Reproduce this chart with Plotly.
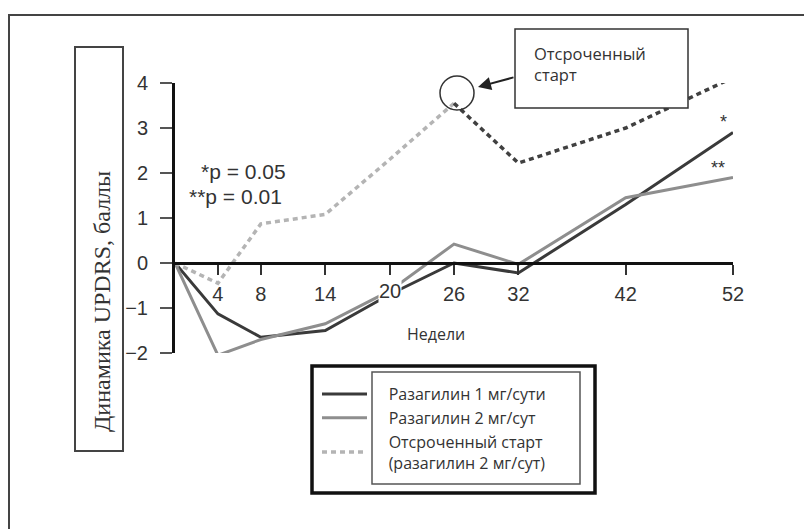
import plotly.graph_objects as go

# ---- data ----
weeks = [0, 4, 8, 14, 20, 26, 32, 42, 52]
raz1 = [0, -1.13, -1.65, -1.5, -0.7, 0.0, -0.22, 1.3, 2.9]
raz2 = [0, -2.05, -1.7, -1.35, -0.62, 0.42, -0.03, 1.45, 1.9]
delayed_weeks_a = [0, 4, 8, 14, 20, 26]
delayed_a = [0, -0.45, 0.87, 1.08, 2.3, 3.55]
delayed_weeks_b = [26, 32, 42, 52]
delayed_b = [3.55, 2.22, 3.0, 4.12]

x_ticks = [4, 8, 14, 20, 26, 32, 42, 52]
x_tick_text = ["4", "8", "14", "20", "26", "32", "42", "52"]
y_ticks = [-2, -1, 0, 1, 2, 3, 4]

names = ["Разагилин 1 мг/сути", "Разагилин 2 мг/сут",
         "Отсроченный старт<br>(разагилин 2 мг/сут)"]

# ---- layout geometry (pixels) ----
W, H = 804, 529
L, R, T, B = 175, 71, 83, 176
PW, PH = W - L - R, H - T - B


def px(xp):
    return (xp - L) / PW


def py(yp):
    return (H - B - yp) / PH


PAD = "&nbsp;" * 4


def padded(name):
    return "<br>".join(PAD + part for part in name.split("<br>"))


fig = go.Figure()
fig.add_trace(go.Scatter(x=weeks, y=raz1, mode="lines", name=padded(names[0]),
                         line=dict(color="#3a3a3a", width=3), cliponaxis=False))
fig.add_trace(go.Scatter(x=weeks, y=raz2, mode="lines", name=padded(names[1]),
                         line=dict(color="#8e8e8e", width=3), cliponaxis=False))
fig.add_trace(go.Scatter(x=delayed_weeks_a, y=delayed_a, mode="lines", name=padded(names[2]),
                         line=dict(color="#b4b4b4", width=3.5, dash="5px,4px"),
                         cliponaxis=False))
fig.add_trace(go.Scatter(x=delayed_weeks_b, y=delayed_b, mode="lines", showlegend=False,
                         line=dict(color="#404040", width=3.5, dash="5px,4px"),
                         cliponaxis=False))

shapes = []
# outer frame (top/left visible)
shapes.append(dict(type="rect", xref="paper", yref="paper", x0=px(9), x1=px(830),
                   y0=py(560), y1=py(15), line=dict(color="#444", width=2), layer="below"))
# y title box
shapes.append(dict(type="rect", xref="paper", yref="paper", x0=px(75), x1=px(123),
                   y0=py(451), y1=py(47), line=dict(color="#444", width=2)))
# annotation box (white, covers dotted line)
shapes.append(dict(type="rect", xref="paper", yref="paper", x0=px(515), x1=px(688),
                   y0=py(108), y1=py(29), line=dict(color="#333", width=1.5),
                   fillcolor="white", layer="above"))
# circle around delayed start point
cx, cy, r = 457, 93, 17
shapes.append(dict(type="circle", xref="paper", yref="paper", x0=px(cx - r), x1=px(cx + r),
                   y0=py(cy + r), y1=py(cy - r), line=dict(color="#333", width=1.5)))
# legend boxes
shapes.append(dict(type="rect", xref="paper", yref="paper", x0=px(312), x1=px(595),
                   y0=py(493), y1=py(366), line=dict(color="#111", width=3.5)))
shapes.append(dict(type="rect", xref="paper", yref="paper", x0=px(372), x1=px(580),
                   y0=py(484), y1=py(372), line=dict(color="#555", width=1.5)))


def note(text, x, y, size, family="Liberation Sans", **kw):
    d = dict(text=text, xref="paper", yref="paper", x=px(x), y=py(y),
             xanchor="center", yanchor="middle", showarrow=False,
             font=dict(family=family, size=size, color="#333"))
    d.update(kw)
    return d


annotations = [
    note("Динамика UPDRS, баллы", 102, 301, 24, family="Liberation Serif", textangle=-90),
    note("Недели", 436, 334, 16, family="Open Sans"),
    note("*p = 0.05", 288, 171, 21, xanchor="right"),
    note("**p = 0.01", 284, 196, 21, xanchor="right"),
    note("*", 723, 122, 18),
    note("**", 718, 168, 18),
    note("Отсроченный<br>старт", 532, 64, 16.5, family="Open Sans",
         xanchor="left", align="left"),
]
annotations.append(dict(text="", xref="paper", yref="paper", x=px(478), y=py(87),
                        ax=37, ay=-10, showarrow=True, arrowhead=2, arrowsize=1.3,
                        arrowwidth=2, arrowcolor="#222"))
# tick label "20" drawn with white background (hides lines beneath, as in reference)
annotations.append(dict(text=x_tick_text[3], x=x_ticks[3], y=0, xref="x", yref="y",
                        yshift=-28, showarrow=False, bgcolor="white", borderpad=0,
                        font=dict(family="Liberation Sans", size=20, color="#333")))

fig.update_layout(
    width=W, height=H, margin=dict(l=L, r=R, t=T, b=B),
    paper_bgcolor="white", plot_bgcolor="white",
    shapes=shapes, annotations=annotations,
    showlegend=True,
    legend=dict(x=px(317), y=py(377), xanchor="left", yanchor="top",
                bgcolor="rgba(0,0,0,0)", borderwidth=0, itemwidth=45,
                font=dict(family="Open Sans", size=16, color="#333"),
                tracegroupgap=0),
    xaxis=dict(range=[0, 52], anchor="free", position=1 / 3,
               tickvals=x_ticks,
               ticktext=[t if t != x_tick_text[3] else "" for t in x_tick_text],
               showline=True, linewidth=3, linecolor="#111",
               ticks="outside", ticklen=10, tickwidth=1.5, tickcolor="#333",
               ticklabelstandoff=2,
               tickfont=dict(family="Liberation Sans", size=20, color="#333"),
               showgrid=False, zeroline=False),
    yaxis=dict(range=[-2, 4], tickvals=y_ticks,
               showline=True, linewidth=3, linecolor="#111",
               ticks="outside", ticklen=12, tickwidth=1.5, tickcolor="#555",
               ticklabelstandoff=8,
               tickfont=dict(family="Liberation Sans", size=20, color="#333"),
               showgrid=False, zeroline=False),
)

fig.write_html("out.html")
